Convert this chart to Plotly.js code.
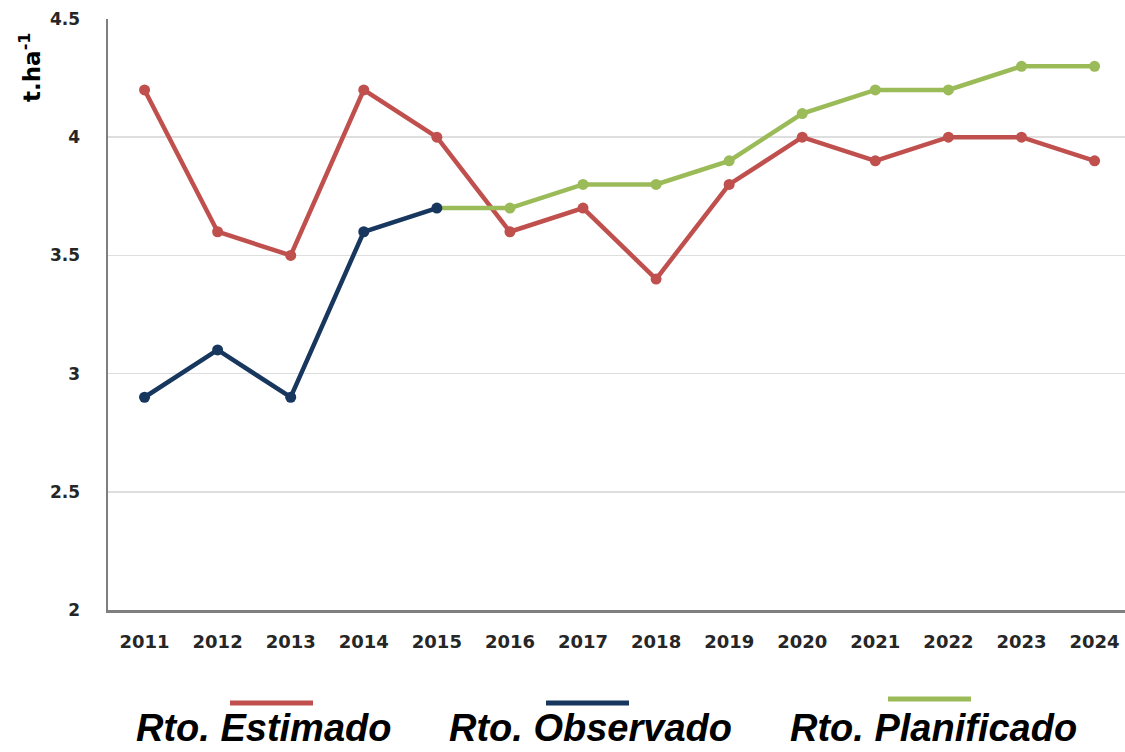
<!DOCTYPE html>
<html>
<head>
<meta charset="utf-8">
<script src="https://cdn.plot.ly/plotly-3.0.1.min.js"></script>
<style>
  html, body { margin: 0; padding: 0; background: #ffffff; }
  #chart { width: 1125px; height: 752px; }
</style>
</head>
<body>
<div id="chart"></div>
<script>
// Rendimiento (t/ha) por año
const years = [2011, 2012, 2013, 2014, 2015, 2016, 2017, 2018, 2019, 2020, 2021, 2022, 2023, 2024];
const estimado = [4.2, 3.6, 3.5, 4.2, 4.0, 3.6, 3.7, 3.4, 3.8, 4.0, 3.9, 4.0, 4.0, 3.9];
const observadoYears = [2011, 2012, 2013, 2014, 2015];
const observado = [2.9, 3.1, 2.9, 3.6, 3.7];
const planificadoYears = [2015, 2016, 2017, 2018, 2019, 2020, 2021, 2022, 2023, 2024];
const planificado = [3.7, 3.7, 3.8, 3.8, 3.9, 4.1, 4.2, 4.2, 4.3, 4.3];
const yTicks = [2, 2.5, 3, 3.5, 4, 4.5];
const seriesNames = ['Rto. Estimado', 'Rto. Observado', 'Rto. Planificado'];

const colors = { est: '#c0504d', obs: '#17375e', plan: '#9bbb59' };

const W = 1125, H = 752;
const M = { l: 108, r: 0, t: 19, b: 142 };
const plotW = W - M.l - M.r, plotH = H - M.t - M.b;
const px2x = px => (px - M.l) / plotW;
const py2y = py => (H - M.b - py) / plotH;

function series(x, y, name, color) {
  return {
    x: x, y: y, name: name, type: 'scatter', mode: 'lines+markers',
    line: { color: color, width: 4.5 },
    marker: { color: color, size: 11 },
    showlegend: false, hoverinfo: 'x+y'
  };
}

const data = [
  series(years, estimado, seriesNames[0], colors.est),
  // planned line leaves from the last observed point (no marker of its own there)
  {
    x: planificadoYears.slice(0, 2), y: planificado.slice(0, 2), type: 'scatter', mode: 'lines',
    line: { color: colors.plan, width: 4.5 }, showlegend: false, hoverinfo: 'skip'
  },
  series(planificadoYears.slice(1), planificado.slice(1), seriesNames[2], colors.plan),
  series(observadoYears, observado, seriesNames[1], colors.obs)
];

const yTickFont = { family: 'DejaVu Sans, sans-serif', size: 17, color: '#262626', weight: 'bold' };
const xTickFont = { family: 'DejaVu Sans, sans-serif', size: 18, color: '#262626', weight: 'bold' };
const catW = 73.08;

const legendItems = [
  { label: seriesNames[0], color: colors.est, x0: 230, x1: 313, ly: 703, tx: 263 },
  { label: seriesNames[1], color: colors.obs, x0: 546, x1: 629, ly: 703, tx: 590 },
  { label: seriesNames[2], color: colors.plan, x0: 888, x1: 971, ly: 699, tx: 933 }
];

const shapes = legendItems.map(it => ({
  type: 'line', xref: 'paper', yref: 'paper',
  x0: px2x(it.x0), x1: px2x(it.x1), y0: py2y(it.ly), y1: py2y(it.ly),
  line: { color: it.color, width: 5 }
}));

const annotations = legendItems.map(it => ({
  xref: 'paper', yref: 'paper', x: px2x(it.tx), y: py2y(751),
  xanchor: 'center', yanchor: 'bottom', showarrow: false,
  text: '<b><i>' + it.label + '</i></b>',
  font: { family: 'Liberation Sans, Arial, sans-serif', size: 38, color: '#000000' }
}));

annotations.push({
  xref: 'paper', yref: 'paper', x: px2x(30), y: py2y(67),
  xanchor: 'center', yanchor: 'middle', showarrow: false, textangle: -90,
  text: '<b>t.ha<sup>-1</sup></b>',
  font: { family: 'DejaVu Sans, sans-serif', size: 23, color: '#000000' }
});

const layout = {
  width: W, height: H,
  margin: M,
  paper_bgcolor: '#ffffff', plot_bgcolor: '#ffffff',
  showlegend: false,
  xaxis: {
    range: [years[0] - 0.5, years[0] - 0.5 + plotW / catW],
    tickvals: years, ticktext: years.map(String),
    tickfont: xTickFont,
    showgrid: false, zeroline: false,
    showline: true, linecolor: '#7f7f7f', linewidth: 2.5,
    ticks: 'outside', ticklen: 14, tickcolor: 'rgba(0,0,0,0)'
  },
  yaxis: {
    range: [2, 4.5],
    tickvals: yTicks, ticktext: yTicks.map(String),
    tickfont: yTickFont,
    showgrid: true, gridcolor: '#dedede', gridwidth: 1.5,
    zeroline: false,
    showline: true, linecolor: '#7f7f7f', linewidth: 2.5,
    ticks: 'outside', ticklen: 22, tickcolor: 'rgba(0,0,0,0)'
  },
  shapes: shapes,
  annotations: annotations
};

Plotly.newPlot('chart', data, layout, { displayModeBar: false, staticPlot: true });
</script>
</body>
</html>
